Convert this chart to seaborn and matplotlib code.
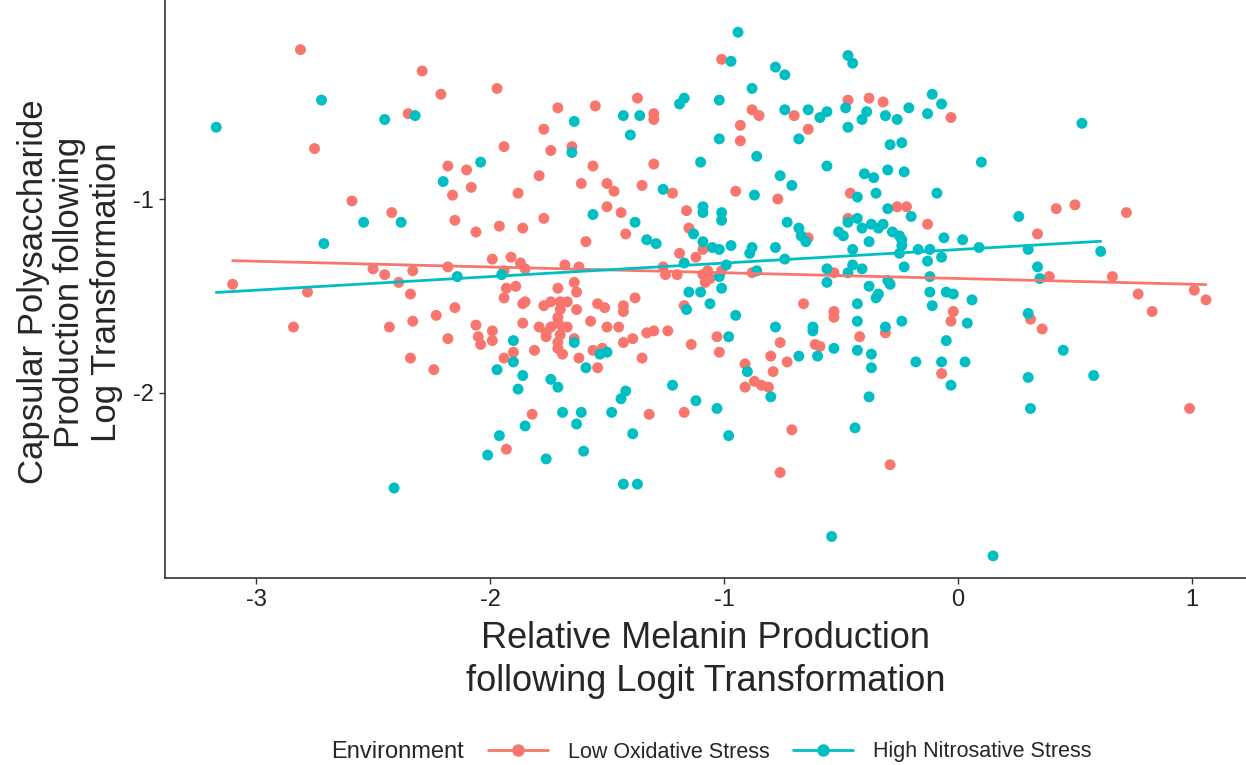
import matplotlib
matplotlib.use("Agg")
import matplotlib.pyplot as plt
from matplotlib.lines import Line2D
import seaborn as sns
import pandas as pd

# Low Oxidative Stress (red)
low_x = [-2.81, -2.29, -2.21, -1.97, -2.35, -2.75, -1.94, -2.18, -2.10, -2.08, -2.16, -1.88, -2.59, -2.42,
         -2.15, -1.96, -2.06, -1.86, -1.99, -1.91, -1.87, -2.50, -2.45, -2.33, -2.18, -1.94, -3.10, -2.78,
         -2.39, -2.34, -1.93, -1.89, -1.94, -1.86, -2.15, -2.23, -2.84, -2.43, -2.33, -2.06, -1.99, -2.05,
         -2.04, -1.99, -1.86, -2.18, -1.90, -1.94, -2.34, -2.24, -1.93, -1.01, -1.37, -1.71, -1.55, -1.30,
         -1.30, -0.88, -0.85, -0.70, -0.47, -0.38, -0.32, -1.77, -0.93, -0.93, -0.64, -1.74, -1.65, -1.56,
         -1.30, -1.79, -1.61, -1.50, -1.47, -1.35, -1.22, -0.95, -0.77, -0.46, -0.03, -1.77, -1.50, -1.44,
         -1.42, -1.59, -1.16, -1.15, -0.64, -0.47, -1.85, -1.68, -1.62, -1.19, -1.12, -1.09, -1.26, -1.25,
         -1.20, -1.09, -1.07, -1.06, -1.08, -1.01, -0.88, -0.53, -1.17, -0.66, -0.53, -0.53, -1.71, -1.64,
         -1.63, -1.85, -1.77, -1.74, -1.70, -1.67, -1.63, -1.70, -1.54, -1.51, -1.43, -1.43, -1.38, -1.71,
         -1.71, -1.79, -1.76, -1.74, -1.69, -1.67, -1.76, -1.70, -1.57, -1.50, -1.45, -1.33, -1.30, -1.24,
         -1.71, -1.64, -1.43, -1.39, -1.71, -1.81, -1.69, -1.56, -1.52, -1.62, -1.14, -1.03, -1.02, -1.35,
         -1.54, -0.91, -0.91, -0.87, -0.84, -0.81, -0.79, -0.80, -0.76, -0.73, -0.61, -0.59, -0.42, -1.82,
         -1.32, -1.17, -0.71, -0.76, -0.26, -0.22, -0.13, -0.02, -0.03, -0.31, -0.07, 0.42, 0.50, 0.72,
         0.34, 0.39, 0.66, 0.77, 0.83, 1.01, 1.06, 0.31, 0.36, 0.99, -0.29]
low_y = [-0.23, -0.34, -0.46, -0.43, -0.56, -0.74, -0.73, -0.83, -0.85, -0.94, -0.98, -0.97, -1.01, -1.07,
         -1.11, -1.14, -1.17, -1.15, -1.31, -1.30, -1.33, -1.36, -1.39, -1.37, -1.35, -1.37, -1.44, -1.48,
         -1.43, -1.49, -1.46, -1.45, -1.51, -1.54, -1.56, -1.60, -1.66, -1.66, -1.63, -1.65, -1.68, -1.71,
         -1.75, -1.73, -1.64, -1.72, -1.79, -1.82, -1.82, -1.88, -2.29, -0.28, -0.48, -0.53, -0.52, -0.56,
         -0.59, -0.54, -0.57, -0.57, -0.49, -0.48, -0.50, -0.64, -0.62, -0.70, -0.64, -0.75, -0.73, -0.83,
         -0.82, -0.88, -0.92, -0.92, -0.96, -0.93, -0.97, -0.96, -1.00, -0.97, -0.58, -1.10, -1.04, -1.07,
         -1.18, -1.22, -1.06, -1.15, -1.20, -1.10, -1.36, -1.34, -1.35, -1.28, -1.30, -1.26, -1.35, -1.39,
         -1.39, -1.39, -1.37, -1.41, -1.43, -1.37, -1.38, -1.38, -1.55, -1.54, -1.58, -1.61, -1.46, -1.43,
         -1.48, -1.53, -1.55, -1.53, -1.53, -1.53, -1.57, -1.57, -1.54, -1.56, -1.55, -1.58, -1.51, -1.61,
         -1.64, -1.66, -1.69, -1.66, -1.66, -1.66, -1.71, -1.70, -1.63, -1.66, -1.66, -1.69, -1.68, -1.68,
         -1.74, -1.72, -1.74, -1.72, -1.77, -1.78, -1.80, -1.78, -1.77, -1.82, -1.75, -1.71, -1.79, -1.82,
         -1.87, -1.85, -1.97, -1.94, -1.96, -1.97, -1.89, -1.81, -1.74, -1.84, -1.75, -1.76, -1.71, -2.11,
         -2.11, -2.10, -2.19, -2.41, -1.04, -1.04, -1.13, -1.58, -1.63, -1.69, -1.90, -1.05, -1.03, -1.07,
         -1.18, -1.40, -1.40, -1.49, -1.58, -1.47, -1.52, -1.62, -1.67, -2.08, -2.37]

# High Nitrosative Stress (teal)
high_x = [-3.17, -2.72, -2.45, -2.32, -2.04, -2.20, -2.54, -2.38, -2.71, -2.14, -1.95, -1.90, -1.90, -1.97,
          -1.86, -1.88, -1.85, -1.96, -2.01, -2.41, -0.94, -0.97, -0.78, -0.74, -0.47, -0.45, -0.88, -1.17,
          -1.19, -1.02, -1.43, -1.36, -0.74, -0.64, -0.59, -0.56, -0.48, -0.39, -0.41, -0.47, -1.64, -1.40,
          -1.02, -0.68, -1.65, -1.10, -0.86, -0.56, -1.26, -0.87, -0.76, -0.71, -0.40, -0.36, -0.43, -0.35,
          -0.11, -0.07, -0.21, -0.31, -0.26, -0.13, 0.53, -0.29, -0.24, 0.10, -0.30, -0.23, -0.09, -1.56,
          -1.38, -1.09, -1.09, -1.01, -1.01, -1.13, -1.33, -1.29, -0.73, -0.68, -0.67, -0.65, -0.47, -0.43,
          -0.41, -0.51, -0.49, -0.37, -0.34, -0.38, -1.09, -1.05, -1.02, -0.97, -0.89, -0.88, -0.78, -0.74,
          -1.17, -0.99, -1.02, -0.86, -0.56, -0.56, -0.45, -0.45, -0.47, -0.41, -0.38, -1.15, -1.10, -1.01,
          -1.06, -1.16, -0.95, -0.43, -0.35, -0.43, -1.64, -1.53, -1.50, -0.98, -1.59, -1.74, -1.71, -1.22,
          -1.42, -1.44, -0.90, -0.78, -0.68, -0.62, -0.62, -0.60, -0.53, -0.43, -0.37, -0.37, -0.80, -0.38,
          -1.69, -1.61, -1.63, -1.48, -1.39, -1.12, -1.03, -0.98, -0.44, -1.76, -1.60, -1.43, -1.37, -0.54,
          -0.30, -0.20, -0.32, -0.28, -0.25, -0.24, -0.24, -0.25, -0.17, -0.12, -0.13, -0.07, -0.06, 0.02,
          0.09, -0.23, -0.12, -0.30, -0.29, -0.34, -0.12, -0.11, -0.05, -0.02, 0.06, 0.04, -0.24, -0.31,
          -0.05, -0.18, -0.07, 0.03, -0.03, 0.26, 0.30, 0.61, 0.34, 0.35, 0.30, 0.45, 0.30, 0.58, 0.31, 0.15]
high_y = [-0.63, -0.49, -0.59, -0.57, -0.81, -0.91, -1.12, -1.12, -1.23, -1.40, -1.39, -1.73, -1.84, -1.88,
          -1.91, -1.98, -2.17, -2.22, -2.32, -2.49, -0.14, -0.29, -0.32, -0.36, -0.26, -0.30, -0.43, -0.48,
          -0.51, -0.49, -0.57, -0.57, -0.54, -0.54, -0.58, -0.55, -0.53, -0.55, -0.59, -0.63, -0.60, -0.67,
          -0.69, -0.69, -0.76, -0.81, -0.78, -0.83, -0.95, -0.98, -0.88, -0.93, -0.87, -0.89, -0.99, -0.97,
          -0.46, -0.51, -0.53, -0.57, -0.59, -0.56, -0.61, -0.72, -0.71, -0.81, -0.85, -0.86, -0.97, -1.08,
          -1.12, -1.04, -1.07, -1.07, -1.11, -1.18, -1.21, -1.23, -1.12, -1.15, -1.19, -1.22, -1.12, -1.10,
          -1.15, -1.17, -1.19, -1.13, -1.15, -1.22, -1.22, -1.25, -1.26, -1.24, -1.28, -1.25, -1.25, -1.31,
          -1.33, -1.34, -1.40, -1.37, -1.36, -1.43, -1.26, -1.34, -1.38, -1.36, -1.45, -1.48, -1.48, -1.46,
          -1.54, -1.57, -1.60, -1.54, -1.51, -1.63, -1.74, -1.80, -1.79, -1.71, -1.87, -1.93, -1.97, -1.96,
          -1.99, -2.03, -1.89, -1.66, -1.81, -1.66, -1.68, -1.81, -1.77, -1.78, -1.80, -1.87, -2.02, -2.02,
          -2.10, -2.10, -2.16, -2.10, -2.21, -2.04, -2.08, -2.22, -2.18, -2.34, -2.30, -2.47, -2.47, -2.74,
          -1.05, -1.09, -1.13, -1.17, -1.19, -1.21, -1.24, -1.28, -1.26, -1.26, -1.32, -1.30, -1.20, -1.21,
          -1.25, -1.35, -1.40, -1.42, -1.44, -1.49, -1.48, -1.55, -1.48, -1.49, -1.52, -1.64, -1.63, -1.66,
          -1.73, -1.84, -1.84, -1.84, -1.96, -1.09, -1.26, -1.27, -1.35, -1.41, -1.59, -1.78, -1.92, -1.91,
          -2.08, -2.84]

groups = ["Low Oxidative Stress", "High Nitrosative Stress"]
colors = ["#F8766D", "#00BFC4"]

df = pd.DataFrame({
    "melanin": low_x + high_x,
    "capsule": low_y + high_y,
    "Environment": [groups[0]] * len(low_x) + [groups[1]] * len(high_x),
})

sns.set_style("white")
plt.rcParams["font.family"] = ["Liberation Sans", "DejaVu Sans"]

fig = plt.figure(figsize=(12.46, 7.65), dpi=100)
ax = fig.add_axes([165 / 1246, 1 - 578 / 765, 1 - 165 / 1246, 578 / 765])

sns.scatterplot(data=df, x="melanin", y="capsule", hue="Environment", hue_order=groups,
                palette=colors, s=62, linewidth=0, alpha=1, legend=False, ax=ax, zorder=2)

# linear fits per group
for g, c in zip(groups, colors):
    sub = df[df["Environment"] == g]
    sns.regplot(data=sub, x="melanin", y="capsule", scatter=False, ci=None, truncate=True,
                color=c, line_kws={"linewidth": 2.0, "zorder": 3}, ax=ax)

ax.set_xlim(-3.389, 1.231)
ax.set_ylim(-2.954, 0.026)
ax.set_xticks([-3, -2, -1, 0, 1])
ax.set_yticks([-1, -2])
ax.set_xticklabels(["-3", "-2", "-1", "0", "1"])
ax.set_yticklabels(["-1", "-2"])
ax.tick_params(axis="both", length=4, width=1, color="#333333", labelsize=17,
               labelcolor="#222222", pad=4, direction="out", bottom=True, left=True)

for side in ["top", "right"]:
    ax.spines[side].set_visible(False)
for side in ["left", "bottom"]:
    ax.spines[side].set_color("#333333")
    ax.spines[side].set_linewidth(1.2)

ax.set_xlabel("Relative Melanin Production\nfollowing Logit Transformation", fontsize=26,
              linespacing=1.3)
ax.set_ylabel("Capsular Polysaccharide\nProduction following\nLog Transformation", fontsize=25,
              linespacing=1.12)
ax.xaxis.label.set_verticalalignment("center")
ax.yaxis.label.set_verticalalignment("center")
ax.xaxis.set_label_coords(0.5, -(660 - 578) / 578)
ax.yaxis.set_label_coords((70 - 165) / 1081, (578 - 292) / 578)

# legend at the bottom, title on the left
leg_y = 1 - 752 / 765
fig.text(331 / 1246, leg_y, "Environment", fontsize=17, va="center", ha="left")
handles = [Line2D([0], [0], color=c, lw=2, marker="o", markersize=8) for c in colors]
fig.legend(handles, groups, loc="center left", bbox_to_anchor=(488 / 1246, leg_y),
           ncol=2, frameon=False, fontsize=15.5, handlelength=2.8, columnspacing=1.1,
           handletextpad=0.9, borderpad=0, borderaxespad=0)

fig.savefig("out.png", dpi=100)
